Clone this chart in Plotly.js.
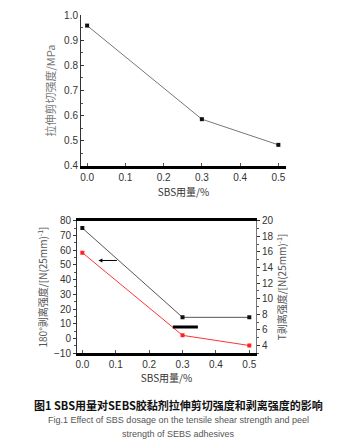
<!DOCTYPE html>
<html><head><meta charset="utf-8">
<script src="https://cdn.plot.ly/plotly-3.0.1.min.js"></script>
<style>html,body{margin:0;padding:0;background:#fff}#c{width:356px;height:443px}</style>
</head><body><div id="c"></div>
<script>
var sbs = [0, 0.3, 0.5];
var shearStrength = [0.958, 0.586, 0.484];
var peel180 = [75, 14.4, 14.4];
var peelT = [15.9, 5.3, 4.0];
var xTicks = [0, 0.1, 0.2, 0.3, 0.4, 0.5];
var xTickText = ['0.0', '0.1', '0.2', '0.3', '0.4', '0.5'];

var tickFont = {family: 'Liberation Sans, Arial, sans-serif', size: 10, color: '#333'};
var cjk = 'Noto Sans CJK SC, sans-serif';

var traces = [
  {x: sbs, y: shearStrength, xaxis: 'x', yaxis: 'y', mode: 'lines+markers',
   line: {color: '#777', width: 1}, marker: {symbol: 'square', size: 4, color: '#111'}},
  {x: sbs, y: peel180, xaxis: 'x2', yaxis: 'y2', mode: 'lines+markers',
   line: {color: '#555', width: 1}, marker: {symbol: 'square', size: 4, color: '#111'}},
  {x: sbs, y: peelT, xaxis: 'x2', yaxis: 'y3', mode: 'lines+markers',
   line: {color: '#f33', width: 1}, marker: {symbol: 'square', size: 4, color: '#f22'}}
];

var layout = {
  width: 356, height: 443, showlegend: false,
  margin: {l: 0, r: 0, t: 0, b: 0},
  paper_bgcolor: '#fff', plot_bgcolor: '#fff',
  xaxis: {domain: [0.2275, 0.8034], anchor: 'y', range: [-0.016, 0.52],
    tickvals: xTicks, ticktext: xTickText, tickfont: tickFont,
    showgrid: false, zeroline: false, showline: true, linecolor: '#000', linewidth: 3,
    ticks: 'inside', ticklen: 3, tickcolor: '#555',
    title: {text: 'SBS用量/%', font: {family: cjk, size: 10, color: '#333'}, standoff: 8}},
  yaxis: {domain: [0.6253, 0.9661], anchor: 'x', range: [0.4, 1.0], dtick: 0.1,
    tickformat: '.1f', tickfont: tickFont,
    showgrid: false, zeroline: false, showline: true, linecolor: '#333', linewidth: 1,
    ticks: 'inside', ticklen: 3, tickcolor: '#333',
    minor: {ticks: 'inside', ticklen: 2, dtick: 0.05, tickcolor: '#555'},
    title: {text: '拉伸剪切强度/MPa', font: {family: cjk, size: 11, color: '#777'}, standoff: 6}},
  xaxis2: {domain: [0.2163, 0.7191], anchor: 'y2', range: [-0.016, 0.52],
    tickvals: xTicks, ticktext: xTickText, tickfont: tickFont,
    showgrid: false, zeroline: false, showline: true, linecolor: '#000', linewidth: 3, mirror: true,
    ticks: 'inside', ticklen: 3, tickcolor: '#555',
    title: {text: 'SBS用量/%', font: {family: cjk, size: 10, color: '#333'}, standoff: 6}},
  yaxis2: {domain: [0.2025, 0.5018], anchor: 'x2', range: [-10, 80], dtick: 10, tickfont: tickFont,
    showgrid: false, zeroline: false, showline: true, linecolor: '#333', linewidth: 1,
    ticks: 'outside', ticklen: 3, tickcolor: '#333',
    minor: {ticks: 'outside', ticklen: 2, dtick: 5, tickcolor: '#555'},
    title: {text: '180°剥离强度/[N(25mm)<sup>-1</sup>]', font: {family: cjk, size: 10, color: '#555'}, standoff: 4}},
  yaxis3: {overlaying: 'y2', side: 'right', anchor: 'x2', range: [3, 20], tickvals: [4,6,8,10,12,14,16,18,20],
    tickfont: tickFont,
    showgrid: false, zeroline: false, showline: true, linecolor: '#777', linewidth: 1,
    ticks: 'outside', ticklen: 3, tickcolor: '#333',
    minor: {ticks: 'outside', ticklen: 2, dtick: 1, tickcolor: '#555'},
    title: {text: 'T剥离强度/[N(25mm)<sup>-1</sup>]', font: {family: cjk, size: 10, color: '#555'}, standoff: 6}},
  shapes: [
    {type: 'line', xref: 'x2', yref: 'y2', x0: 0.271, x1: 0.346, y0: 7.8, y1: 7.8,
     line: {color: '#000', width: 3}}
  ],
  annotations: [
    {xref: 'x2', yref: 'y2', axref: 'x2', ayref: 'y2', x: 0.048, y: 53, ax: 0.108, ay: 53,
     showarrow: true, arrowhead: 2, arrowsize: 0.8, arrowwidth: 1, arrowcolor: '#000', text: ''},
    {xref: 'paper', yref: 'paper', x: 0.5, y: 0.0858, yanchor: 'middle', showarrow: false,
     text: '<b>图1 SBS用量对SEBS胶黏剂拉伸剪切强度和剥离强度的影响</b>',
     font: {family: cjk, size: 11, color: '#111'}},
    {xref: 'paper', yref: 'paper', x: 0.5, y: 0.0519, yanchor: 'middle', showarrow: false,
     text: 'Fig.1 Effect of SBS dosage on the tensile shear strength and peel',
     font: {family: 'Liberation Sans, Arial, sans-serif', size: 9, color: '#555'}},
    {xref: 'paper', yref: 'paper', x: 0.5, y: 0.0203, yanchor: 'middle', showarrow: false,
     text: 'strength of SEBS adhesives',
     font: {family: 'Liberation Sans, Arial, sans-serif', size: 9, color: '#555'}}
  ]
};

Plotly.newPlot('c', traces, layout, {staticPlot: true, displayModeBar: false});
</script>
</body></html>
